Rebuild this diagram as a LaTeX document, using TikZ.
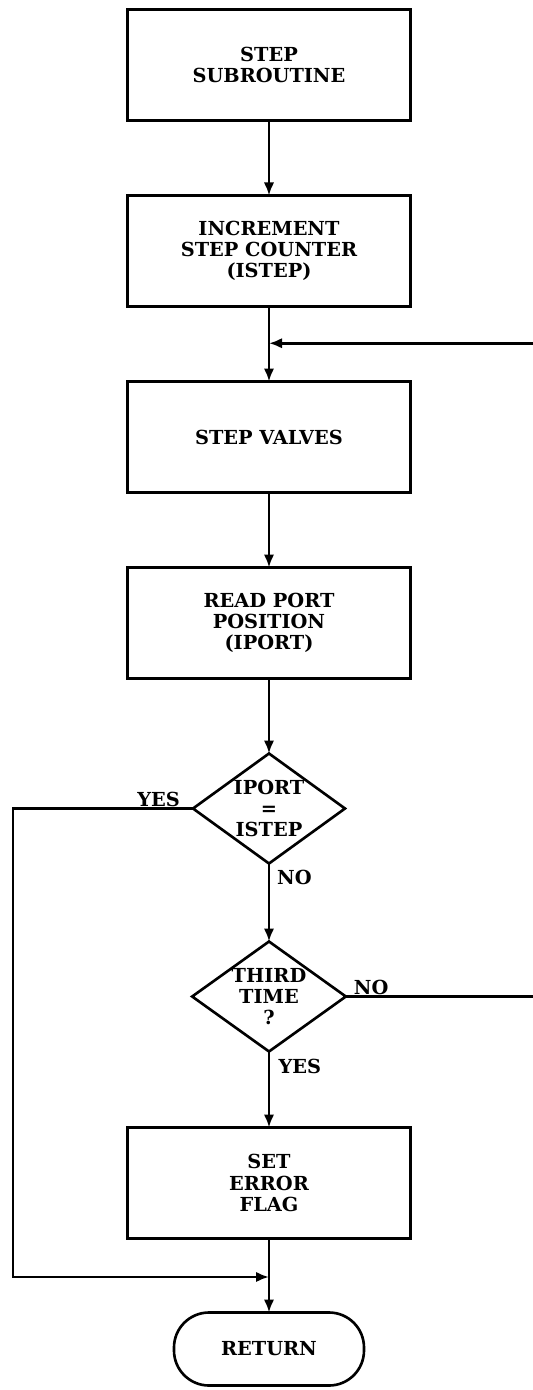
\documentclass[tikz,border=0pt]{standalone}
\usepackage{fontspec}
\setmainfont{DejaVu Serif}
\usetikzlibrary{positioning, shapes.geometric, arrows.meta, calc}

\begin{document}
\begin{tikzpicture}[
    >={Latex[length=2.6mm, width=2.1mm]},
    every node/.style={font=\bfseries\fontsize{11}{12}\selectfont},
    etape/.style={rectangle, draw, line width=1.5pt, align=center, outer sep=0pt,
                  minimum width=5.66cm, minimum height=2.22cm},
    choix/.style={diamond, draw, line width=1.5pt, align=center, inner sep=0pt,
                  outer sep=0pt, aspect=1.4, minimum width=3.04cm, minimum height=2.2cm},
    fin/.style={rectangle, rounded corners=0.7cm, draw, line width=1.5pt, outer sep=0pt,
                minimum width=3.8cm, minimum height=1.46cm},
    etiq/.style={inner sep=1pt},
    fleche/.style={->, line width=1.5pt}]
    \useasboundingbox (-5.38,1.3) rectangle (5.26,-26.5);
    \node[etape] (a) {STEP\\SUBROUTINE};
    \node[etape, below=1.5cm of a] (b) {INCREMENT\\STEP COUNTER\\(ISTEP)};
    \node[etape, below=1.5cm of b] (c) {STEP VALVES};
    \node[etape, below=1.5cm of c] (d) {READ PORT\\POSITION\\(IPORT)};
    \node[choix, below=1.5cm of d] (e) {IPORT\\=\\ISTEP};
    \node[choix, below=1.56cm of e] (f) {THIRD\\TIME\\?};
    \node[etape, below=1.52cm of f] (g) {SET\\ERROR\\FLAG};
    \node[fin, below=1.48cm of g] (h) {RETURN};
    \coordinate (m1) at ($(b.south)!0.49!(c.north)$);
    \coordinate (m2) at ($(g.south)!0.52!(h.north)$);
    \coordinate (gauche) at (-5.12,0);
    \coordinate (droite) at (5.5,0);
    \node[etiq, anchor=south east] (oui1) at ([xshift=-0.22cm]e.west) {YES};
    \node[etiq, anchor=north west] (non1) at ([xshift=0.12cm, yshift=-0.1cm]e.south) {NO};
    \node[etiq, anchor=south west] (non2) at ([xshift=0.12cm]f.east) {NO};
    \node[etiq, anchor=north west] (oui2) at ([xshift=0.15cm, yshift=-0.12cm]f.south) {YES};
    \draw[fleche] (a) -- (b);
    \draw[line width=1.5pt] (b) -- (m1);
    \draw[fleche] (m1) -- (c);
    \draw[fleche] (c) -- (d);
    \draw[fleche] (d) -- (e);
    \draw[fleche] (e) -- (f);
    \draw[fleche] (f) -- (g);
    \draw[fleche] (g) -- (h);
    \draw[fleche] (e.west) -- (e.west -| gauche) |- (m2);
    \draw[fleche] (f.east) -- (f.east -| droite) |- (m1);
  \end{tikzpicture}
\end{document}
